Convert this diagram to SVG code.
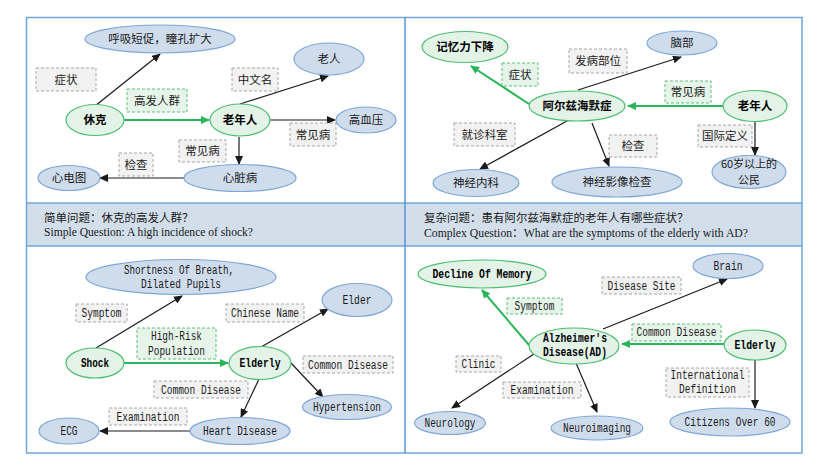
<svg xmlns="http://www.w3.org/2000/svg" width="817" height="471" viewBox="0 0 817 471">
<defs>
<style>
.bn{fill:#cfdcec;stroke:#7ea7d8;stroke-width:1.2}
.gn{fill:#e3f3e8;stroke:#4cbd6e;stroke-width:1.2}
.lb{fill:#f2f2f2;stroke:#a8a8a8;stroke-width:1;stroke-dasharray:3 2}
.gb{fill:#e6f4ea;stroke:#5cbf7c;stroke-width:1;stroke-dasharray:3 2}
.zh{font-family:"Noto Sans CJK SC","Noto Sans",sans-serif;font-size:11.5px;fill:#1a1a1a;text-anchor:middle}
.zb{font-weight:bold;fill:#000}
.en{font-family:"Liberation Mono",monospace;font-size:12px;fill:#1a1a1a;text-anchor:middle}
.eb{font-weight:bold;fill:#000}
.ka{stroke:#1a1a1a;stroke-width:1.2;fill:none;marker-end:url(#ak)}
.ga{stroke:#2bb55a;stroke-width:2;fill:none;marker-end:url(#ag)}
.bt{font-family:"Liberation Serif","Noto Sans CJK SC",serif;font-size:11.5px;fill:#1a1a1a}
</style>
<marker id="ak" markerWidth="9" markerHeight="8" refX="8" refY="4" orient="auto" markerUnits="userSpaceOnUse"><path d="M0,0 L9,4 L0,8 Z" fill="#1a1a1a"/></marker>
<marker id="ag" markerWidth="9" markerHeight="8" refX="8" refY="4" orient="auto" markerUnits="userSpaceOnUse"><path d="M0,0 L9,4 L0,8 Z" fill="#2bb55a"/></marker>
</defs>
<rect width="817" height="471" fill="#ffffff"/>
<g id="frame">
<rect x="26.5" y="203" width="775.5" height="43" fill="#d3deeb"/>
<rect x="26.5" y="17.5" width="775.5" height="435.5" fill="none" stroke="#6fa6dc" stroke-width="1.5"/>
<line x1="26.5" y1="203" x2="802" y2="203" stroke="#6fa6dc" stroke-width="1.5"/>
<line x1="26.5" y1="246" x2="802" y2="246" stroke="#6fa6dc" stroke-width="1.5"/>
<line x1="405" y1="17.5" x2="405" y2="453" stroke="#5b93d1" stroke-width="1.5"/>
</g>
<g id="band-text">
<text class="bt" x="44" y="222">简单问题：休克的高发人群？</text>
<text class="bt" x="44" y="236" textLength="209" lengthAdjust="spacingAndGlyphs">Simple Question: A high incidence of shock?</text>
<text class="bt" x="424" y="222">复杂问题：患有阿尔兹海默症的老年人有哪些症状？</text>
<text class="bt" x="424" y="237" textLength="324" lengthAdjust="spacingAndGlyphs">Complex Question：What are the symptoms of the elderly with AD?</text>
</g>
<g id="connectors">
<line class="ka" x1="95" y1="106" x2="160" y2="54"/>
<line class="ga" x1="124" y1="120" x2="209" y2="120"/>
<line class="ka" x1="240" y1="104" x2="328" y2="76"/>
<line class="ka" x1="270" y1="120" x2="335" y2="120"/>
<line class="ka" x1="239" y1="137" x2="239" y2="164"/>
<line class="ka" x1="184" y1="178" x2="100" y2="178"/>
<line class="ga" x1="529" y1="104" x2="471" y2="66"/>
<line class="ka" x1="578" y1="90" x2="681" y2="57"/>
<line class="ga" x1="723" y1="106" x2="628" y2="106"/>
<line class="ka" x1="755" y1="122" x2="755" y2="155"/>
<line class="ka" x1="567" y1="121" x2="480" y2="169"/>
<line class="ka" x1="592" y1="123" x2="609" y2="166"/>
<line class="ka" x1="96" y1="348" x2="182" y2="296"/>
<line class="ga" x1="124" y1="363" x2="228" y2="363"/>
<line class="ka" x1="261" y1="347" x2="328" y2="309"/>
<line class="ka" x1="291" y1="363" x2="323" y2="397"/>
<line class="ka" x1="259" y1="379" x2="241" y2="417"/>
<line class="ka" x1="190" y1="431" x2="100" y2="431"/>
<line class="ga" x1="529" y1="345" x2="482" y2="290"/>
<line class="ka" x1="603" y1="329" x2="727" y2="279"/>
<line class="ga" x1="724" y1="344" x2="622" y2="344"/>
<line class="ka" x1="755" y1="360" x2="755" y2="408"/>
<line class="ka" x1="534" y1="354" x2="452" y2="408"/>
<line class="ka" x1="576" y1="363" x2="597" y2="412"/>
</g>
<g id="edge-labels">
<g id="l-tl-1"><rect class="lb" x="36" y="68" width="60" height="23"/><text class="zh" x="66" y="84">症状</text></g>
<g id="l-tl-2"><rect class="lb" x="232" y="68" width="46" height="23"/><text class="zh" x="255" y="84">中文名</text></g>
<g id="l-tl-3"><rect class="gb" x="127" y="89" width="60" height="23"/><text class="zh" x="157" y="105">高发人群</text></g>
<g id="l-tl-4"><rect class="lb" x="290" y="123" width="46" height="23"/><text class="zh" x="313" y="139">常见病</text></g>
<g id="l-tl-5"><rect class="lb" x="179" y="140" width="47" height="22"/><text class="zh" x="202.5" y="155">常见病</text></g>
<g id="l-tl-6"><rect class="lb" x="119" y="153" width="34" height="23"/><text class="zh" x="136" y="169">检查</text></g>
<g id="l-tr-1"><rect class="lb" x="569" y="49" width="58" height="24"/><text class="zh" x="598" y="65">发病部位</text></g>
<g id="l-tr-2"><rect class="gb" x="502" y="63" width="36" height="23"/><text class="zh" x="520" y="79">症状</text></g>
<g id="l-tr-3"><rect class="gb" x="665" y="81" width="46" height="22"/><text class="zh" x="688" y="96">常见病</text></g>
<g id="l-tr-4"><rect class="lb" x="454" y="123" width="61" height="23"/><text class="zh" x="484.5" y="139">就诊科室</text></g>
<g id="l-tr-5"><rect class="lb" x="609" y="135" width="48" height="22"/><text class="zh" x="633" y="150">检查</text></g>
<g id="l-tr-6"><rect class="lb" x="698" y="125" width="54" height="22"/><text class="zh" x="725" y="140">国际定义</text></g>
<g id="l-bl-1"><rect class="lb" x="76" y="304" width="51" height="18"/><text class="en" x="101.5" y="317" textLength="40" lengthAdjust="spacingAndGlyphs">Symptom</text></g>
<g id="l-bl-2"><rect class="lb" x="226" y="304" width="78" height="18"/><text class="en" x="265" y="317" textLength="68" lengthAdjust="spacingAndGlyphs">Chinese Name</text></g>
<g id="l-bl-3"><rect class="gb" x="137" y="328" width="79" height="31"/><text class="en" x="176.5" y="340" textLength="51" lengthAdjust="spacingAndGlyphs">High-Risk</text><text class="en" x="176.5" y="355" textLength="57" lengthAdjust="spacingAndGlyphs">Population</text></g>
<g id="l-bl-4"><rect class="lb" x="303" y="356" width="90" height="17"/><text class="en" x="348" y="369" textLength="80" lengthAdjust="spacingAndGlyphs">Common Disease</text></g>
<g id="l-bl-5"><rect class="lb" x="154" y="381" width="94" height="17"/><text class="en" x="201" y="394" textLength="80" lengthAdjust="spacingAndGlyphs">Common Disease</text></g>
<g id="l-bl-6"><rect class="lb" x="109" y="408" width="78" height="17"/><text class="en" x="148" y="421" textLength="63" lengthAdjust="spacingAndGlyphs">Examination</text></g>
<g id="l-br-1"><rect class="lb" x="602" y="277" width="79" height="17"/><text class="en" x="641.5" y="290" textLength="68" lengthAdjust="spacingAndGlyphs">Disease Site</text></g>
<g id="l-br-2"><rect class="gb" x="507" y="298" width="55" height="16"/><text class="en" x="534.5" y="310" textLength="40" lengthAdjust="spacingAndGlyphs">Symptom</text></g>
<g id="l-br-3"><rect class="gb" x="632" y="324" width="89" height="17"/><text class="en" x="676.5" y="336" textLength="80" lengthAdjust="spacingAndGlyphs">Common Disease</text></g>
<g id="l-br-4"><rect class="lb" x="456" y="356" width="45" height="16"/><text class="en" x="478.5" y="368" textLength="34" lengthAdjust="spacingAndGlyphs">Clinic</text></g>
<g id="l-br-5"><rect class="lb" x="666" y="368" width="83" height="29"/><text class="en" x="707.5" y="379" textLength="74" lengthAdjust="spacingAndGlyphs">International</text><text class="en" x="707.5" y="393" textLength="57" lengthAdjust="spacingAndGlyphs">Definition</text></g>
<g id="l-br-6"><rect class="lb" x="503" y="382" width="78" height="16"/><text class="en" x="542" y="394" textLength="63" lengthAdjust="spacingAndGlyphs">Examination</text></g>
</g>
<g id="n-huxi"><ellipse class="bn" cx="160" cy="39" rx="75" ry="14"/><text class="zh" x="160" y="43">呼吸短促，瞳孔扩大</text></g>
<g id="n-laoren"><ellipse class="bn" cx="329" cy="59" rx="35" ry="16"/><text class="zh" x="329" y="63">老人</text></g>
<g id="n-xiuke"><ellipse class="gn" cx="95" cy="120" rx="29" ry="15.5"/><text class="zh zb" x="95" y="124">休克</text></g>
<g id="n-laonianren1"><ellipse class="gn" cx="240" cy="120" rx="30" ry="16"/><text class="zh zb" x="240" y="124">老年人</text></g>
<g id="n-gaoxueya"><ellipse class="bn" cx="366" cy="120" rx="30" ry="13"/><text class="zh" x="366" y="124">高血压</text></g>
<g id="n-xindiantu"><ellipse class="bn" cx="69" cy="178" rx="31" ry="12.5"/><text class="zh" x="69" y="182">心电图</text></g>
<g id="n-xinzangbing"><ellipse class="bn" cx="240" cy="178" rx="56" ry="13.5"/><text class="zh" x="240" y="182">心脏病</text></g>
<g id="n-jiyili"><ellipse class="gn" cx="465" cy="47" rx="43" ry="15.5"/><text class="zh zb" x="465" y="51">记忆力下降</text></g>
<g id="n-naobu"><ellipse class="bn" cx="682" cy="43" rx="35" ry="12"/><text class="zh" x="682" y="47">脑部</text></g>
<g id="n-ad-zh"><ellipse class="gn" cx="577" cy="106" rx="48" ry="15"/><text class="zh zb" x="577" y="110">阿尔兹海默症</text></g>
<g id="n-laonianren2"><ellipse class="gn" cx="755" cy="106" rx="32" ry="15.5"/><text class="zh zb" x="755" y="110">老年人</text></g>
<g id="n-shenjingneike"><ellipse class="bn" cx="476" cy="183" rx="43" ry="13.5"/><text class="zh" x="476" y="187">神经内科</text></g>
<g id="n-shenjingyingxiang"><ellipse class="bn" cx="617" cy="182" rx="65" ry="15"/><text class="zh" x="617" y="186">神经影像检查</text></g>
<g id="n-60"><ellipse class="bn" cx="749" cy="172" rx="37" ry="16.5"/><text class="zh" x="749" y="168" style="font-size:11px">60岁以上的</text><text class="zh" x="749" y="183.5" style="font-size:11px">公民</text></g>
<g id="n-shortness"><ellipse class="bn" cx="181" cy="277" rx="95" ry="17.5"/><text class="en" x="179" y="274" textLength="110" lengthAdjust="spacingAndGlyphs">Shortness Of Breath,</text><text class="en" x="181" y="288" textLength="80" lengthAdjust="spacingAndGlyphs">Dilated Pupils</text></g>
<g id="n-elder"><ellipse class="bn" cx="357" cy="300" rx="35" ry="16.5"/><text class="en" x="357" y="304" textLength="29" lengthAdjust="spacingAndGlyphs">Elder</text></g>
<g id="n-shock"><ellipse class="gn" cx="95" cy="363" rx="29" ry="15"/><text class="en eb" x="95" y="367" textLength="28" lengthAdjust="spacingAndGlyphs">Shock</text></g>
<g id="n-elderly1"><ellipse class="gn" cx="260" cy="363" rx="31" ry="16.5"/><text class="en eb" x="260" y="367" textLength="41" lengthAdjust="spacingAndGlyphs">Elderly</text></g>
<g id="n-hypertension"><ellipse class="bn" cx="347" cy="407" rx="44.5" ry="12.5"/><text class="en" x="347" y="411" textLength="68" lengthAdjust="spacingAndGlyphs">Hypertension</text></g>
<g id="n-ecg"><ellipse class="bn" cx="69" cy="431" rx="30" ry="13"/><text class="en" x="69" y="435" textLength="17" lengthAdjust="spacingAndGlyphs">ECG</text></g>
<g id="n-heart"><ellipse class="bn" cx="240" cy="431" rx="50" ry="13.5"/><text class="en" x="240" y="435" textLength="74" lengthAdjust="spacingAndGlyphs">Heart Disease</text></g>
<g id="n-decline"><ellipse class="gn" cx="482" cy="274" rx="64" ry="14"/><text class="en eb" x="482" y="278" textLength="99" lengthAdjust="spacingAndGlyphs">Decline Of Memory</text></g>
<g id="n-brain"><ellipse class="bn" cx="728" cy="266" rx="35" ry="12.5"/><text class="en" x="728" y="270" textLength="29" lengthAdjust="spacingAndGlyphs">Brain</text></g>
<g id="n-ad"><ellipse class="gn" cx="574" cy="346" rx="45" ry="18"/><text class="en eb" x="575" y="342" textLength="64" lengthAdjust="spacingAndGlyphs">Alzheimer's</text><text class="en eb" x="575" y="356" textLength="64" lengthAdjust="spacingAndGlyphs">Disease(AD)</text></g>
<g id="n-elderly2"><ellipse class="gn" cx="755" cy="345" rx="31" ry="15"/><text class="en eb" x="755" y="349" textLength="41" lengthAdjust="spacingAndGlyphs">Elderly</text></g>
<g id="n-neurology"><ellipse class="bn" cx="450" cy="423" rx="35.5" ry="11.5"/><text class="en" x="450" y="427" textLength="51" lengthAdjust="spacingAndGlyphs">Neurology</text></g>
<g id="n-neuroimaging"><ellipse class="bn" cx="597" cy="428" rx="46" ry="12"/><text class="en" x="597" y="432" textLength="68" lengthAdjust="spacingAndGlyphs">Neuroimaging</text></g>
<g id="n-citizens"><ellipse class="bn" cx="730" cy="422" rx="60" ry="14"/><text class="en" x="730" y="426" textLength="91" lengthAdjust="spacingAndGlyphs">Citizens Over 60</text></g>
</svg>
